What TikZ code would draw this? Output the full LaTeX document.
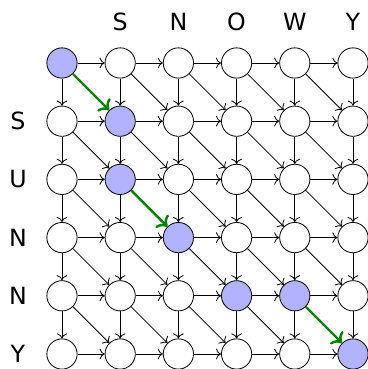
\documentclass[tikz,border=0pt]{standalone}
\usepackage{fontspec}
\setmainfont{DejaVu Sans}
\usetikzlibrary{arrows.meta, positioning}

\begin{document}
\begin{tikzpicture}[
  cell/.style={circle, draw, minimum size=0.52cm, inner sep=0pt},
  arr/.style={->},
  match/.style={->, very thick, green!50!black},
  seqlabel/.style={font=\fontsize{11.6}{14}\selectfont},
  % cells on the alignment path
  h00/.style={fill=blue!30}, h11/.style={fill=blue!30}, h21/.style={fill=blue!30},
  h32/.style={fill=blue!30}, h43/.style={fill=blue!30}, h44/.style={fill=blue!30},
  h55/.style={fill=blue!30},
  % matching diagonal steps
  d00/.style={match}, d21/.style={match}, d44/.style={match},
]
\useasboundingbox (-1.065,-5.258) rectangle (5.258,1.082);

% Grid of cells
\foreach \r in {0,...,5}
  \foreach \c in {0,...,5}
    \node[cell, h\r\c/.try] (c\r\c) at (\c,-\r) {};

% Sequence labels
\foreach \c/\t in {1/S,2/N,3/O,4/W,5/Y}
  \node[seqlabel] (top\c) at (\c,0.713) {\t};
\foreach \r/\t in {1/S,2/U,3/N,4/N,5/Y}
  \node[seqlabel] (side\r) at (-0.756,-\r) {\t};

% Horizontal steps
\foreach \r in {0,...,5}
  \foreach \c [count=\cn from 1] in {0,...,4}
    \draw[arr] (c\r\c) -- (c\r\cn);

% Vertical steps
\foreach \r [count=\rn from 1] in {0,...,4}
  \foreach \c in {0,...,5}
    \draw[arr] (c\r\c) -- (c\rn\c);

% Diagonal steps
\foreach \r [count=\rn from 1] in {0,...,4}
  \foreach \c [count=\cn from 1] in {0,...,4}
    \draw[arr, d\r\c/.try] (c\r\c) -- (c\rn\cn);

\end{tikzpicture}
\end{document}
